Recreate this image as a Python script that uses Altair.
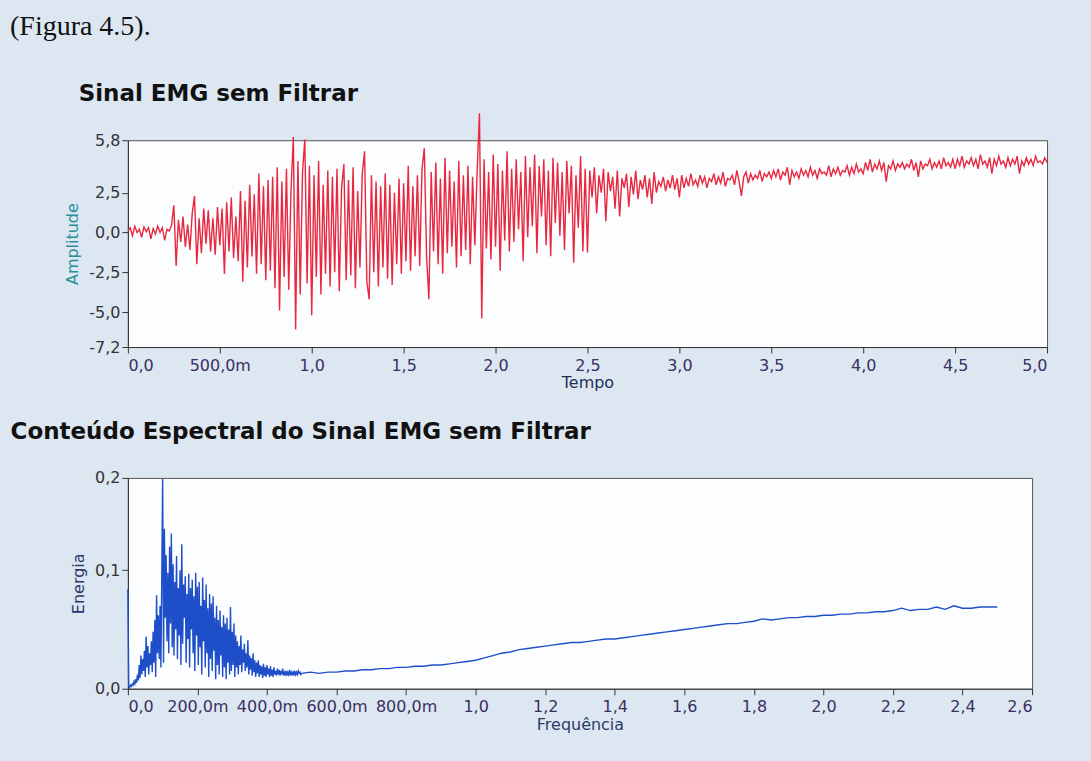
import altair as alt
import pandas as pd

# ---- Top panel: raw EMG signal (Amplitude vs Tempo), sampled every 0.0125 s ----
t_step = 0.0125
amplitude = [
    0.1, 0.3, -0.2, 0.4, 0.0, 0.2, -0.3, 0.35,
    0.05, 0.3, -0.4, 0.25, -0.1, 0.4, 0.0, 0.3,
    -0.5, 0.2, 0.1, 0.45, 1.7, -2.1, 0.8, -0.6,
    1.0, -0.9, 0.5, -1.1, 1.2, 2.3, -2.0, 0.9,
    -1.3, 1.5, -0.7, 1.4, -1.2, 0.9, -1.4, 1.6,
    -0.8, 1.5, -2.6, 1.9, -1.2, 2.2, -1.6, 1.0,
    -1.8, 2.6, -3.1, 2.0, -2.2, 3.0, -1.5, 2.4,
    -2.6, 3.7, -2.0, 2.9, -3.0, 3.3, -2.4, 3.5,
    -3.5, 4.1, -4.9, 3.2, -2.8, 4.0, -3.6, 2.7,
    6.0, -6.1, 4.5, -3.9, 3.8, 5.85, -3.2, 4.2,
    -5.2, 3.6, -2.8, 4.5, -3.9, 3.0, -2.6, 3.9,
    -3.4, 3.5, -2.5, 4.0, -3.7, 2.8, 4.3, -3.0,
    3.3, -2.7, 4.1, -3.5, 2.6, -2.2, 3.7, 5.1,
    -3.1, -4.2, 3.6, -2.5, 3.2, -3.4, 2.9, -2.2,
    3.7, -2.9, 3.0, -3.3, 2.5, -2.0, 3.4, -2.6,
    3.1, -1.8, 4.2, -2.4, 2.9, -1.5, 3.6, -2.1,
    4.0, 5.3, -1.6, -4.2, 3.8, -1.2, 4.4, -2.0,
    3.4, -2.6, 4.7, -1.3, 3.9, -0.9, 3.2, -2.2,
    4.5, -1.5, 3.6, -1.1, 4.2, -2.0, 3.5, -0.8,
    3.9, 7.5, -5.4, 4.6, -1.0, 3.8, -1.7, 4.9,
    -0.9, 4.3, -2.4, 3.9, -0.5, 5.1, -1.2, 4.0,
    -0.6, 4.6, 0.2, 3.8, -1.8, 4.8, -0.3, 4.1,
    0.4, 4.9, -1.3, 4.2, 1.0, 4.6, -0.8, 3.9,
    -1.5, 4.7, 0.6, 4.4, -0.2, 3.8, -1.1, 4.5,
    1.2, 4.2, -1.9, 3.6, 0.3, 4.8, -1.2, 4.0,
    -1.25, 3.9, 2.2, 4.1, 1.2, 3.6, 2.5, 4.0,
    0.7, 3.8, 2.6, 3.5, 1.5, 3.9, 1.0, 3.4,
    2.8, 3.7, 1.6, 3.5, 2.4, 3.9, 2.1, 3.3,
    2.7, 3.6, 2.2, 3.4, 1.8, 3.8, 2.5, 3.2,
    2.9, 3.5, 2.6, 3.3, 2.8, 3.6, 2.7, 3.4,
    2.2, 3.6, 2.8, 3.4, 2.9, 3.7, 3.0, 3.3,
    2.9, 3.6, 3.1, 3.5, 2.8, 3.4, 3.2, 3.7,
    3.0, 3.5, 3.1, 3.8, 2.9, 3.4, 3.3, 3.6,
    3.0, 3.9, 3.2, 2.3, 3.5, 3.8, 3.1, 3.7,
    3.3, 3.6, 3.4, 3.9, 3.2, 3.7, 3.5, 3.8,
    3.4, 3.9, 3.5, 4.0, 3.3, 3.8, 3.6, 4.1,
    3.0, 3.9, 3.5, 3.8, 3.4, 4.0, 3.6, 3.9,
    3.5, 4.1, 3.6, 3.9, 3.4, 4.0, 3.7, 3.8,
    3.6, 4.2, 3.5, 4.0, 3.7, 4.1, 3.6, 3.9,
    3.8, 4.2, 3.6, 4.1, 3.7, 4.3, 3.8, 4.0,
    3.7, 4.4, 3.9, 4.6, 3.8, 4.3, 4.0, 4.5,
    3.9, 4.4, 3.2, 4.2, 4.0, 4.5, 3.9, 4.3,
    4.1, 4.4, 4.0, 4.3, 4.1, 4.6, 3.9, 4.4,
    3.5, 4.5, 4.0, 4.3, 4.2, 4.6, 4.0, 4.4,
    4.1, 4.5, 4.0, 4.7, 4.2, 4.4, 4.1, 4.6,
    4.0, 4.6, 4.2, 4.8, 4.1, 4.5, 4.3, 4.7,
    4.2, 4.6, 4.0, 4.9, 4.3, 4.5, 4.1, 4.7,
    3.7, 4.6, 4.2, 4.8, 4.3, 4.5, 4.1, 4.7,
    4.2, 4.6, 4.3, 4.8, 3.7, 4.5, 4.2, 4.7,
    4.3, 4.6, 4.2, 4.8, 4.4, 4.5, 4.3, 4.7, 4.4,
]
time_ticks = [0.0, 0.5, 1.0, 1.5, 2.0, 2.5, 3.0, 3.5, 4.0, 4.5, 5.0]
amp_ticks = [-7.2, -5.0, -2.5, 0.0, 2.5, 5.8]

# ---- Bottom panel: spectral content (Energia vs Frequência) ----
f_low_step = 0.0025   # dense part, 0 .. 0.4975
energy_low = [
    0.084,
    0.002, 0.001, 0.003, 0.002, 0.004, 0.003, 0.006, 0.004, 0.008, 0.005, 0.012, 0.007,
    0.020, 0.009, 0.028, 0.012, 0.025, 0.015, 0.032, 0.010,
    0.044, 0.018, 0.036, 0.012, 0.030, 0.020, 0.040, 0.014,
    0.048, 0.022, 0.058, 0.010, 0.079, 0.030, 0.062, 0.025,
    0.070, 0.018, 0.095, 0.177, 0.022, 0.135, 0.060, 0.113,
    0.040, 0.098, 0.030, 0.120, 0.055, 0.131, 0.035, 0.105,
    0.028, 0.090, 0.050, 0.112, 0.025, 0.085, 0.045, 0.100,
    0.020, 0.122, 0.038, 0.088, 0.060, 0.095, 0.022, 0.080,
    0.042, 0.097, 0.018, 0.085, 0.050, 0.092, 0.030, 0.078,
    0.015, 0.098, 0.045, 0.086, 0.020, 0.090, 0.035, 0.070,
    0.012, 0.094, 0.040, 0.075, 0.018, 0.088, 0.030, 0.068,
    0.010, 0.080, 0.025, 0.072, 0.015, 0.078, 0.032, 0.060,
    0.008, 0.070, 0.020, 0.058, 0.012, 0.066, 0.028, 0.052,
    0.010, 0.062, 0.018, 0.055, 0.008, 0.060, 0.022, 0.050,
    0.012, 0.069, 0.015, 0.048, 0.020, 0.055, 0.010, 0.045,
    0.018, 0.040, 0.012, 0.036, 0.020, 0.045, 0.014, 0.033,
    0.022, 0.038, 0.015, 0.030, 0.018, 0.041, 0.012, 0.028,
    0.016, 0.026, 0.011, 0.030, 0.014, 0.024, 0.010, 0.022,
    0.013, 0.024, 0.010, 0.020, 0.012, 0.019, 0.009, 0.021,
    0.011, 0.018, 0.010, 0.020, 0.012, 0.017, 0.010, 0.019,
    0.011, 0.016, 0.010, 0.018, 0.012, 0.015, 0.011, 0.017,
    0.012, 0.016, 0.011, 0.015, 0.012, 0.017, 0.011, 0.014,
    0.012, 0.015, 0.011, 0.014, 0.012, 0.016, 0.011, 0.014,
    0.012, 0.014, 0.011, 0.015, 0.012, 0.014, 0.012, 0.015, 0.013, 0.014, 0.012,
]
f_high_start = 0.5
f_high_step = 0.025   # sparse tail, 0.5 .. 2.5
energy_high = [
    0.013, 0.014, 0.013, 0.014,
    0.014, 0.015, 0.015, 0.016,
    0.016, 0.017, 0.017, 0.018,
    0.018, 0.019, 0.019, 0.020,
    0.020, 0.021, 0.022, 0.023,
    0.024, 0.026, 0.028, 0.030,
    0.031, 0.033, 0.034, 0.035,
    0.036, 0.037, 0.038, 0.039,
    0.039, 0.040, 0.041, 0.042,
    0.042, 0.043, 0.044, 0.045,
    0.046, 0.047, 0.048, 0.049,
    0.050, 0.051, 0.052, 0.053,
    0.054, 0.055, 0.055, 0.056,
    0.057, 0.059, 0.058, 0.059,
    0.060, 0.060, 0.061, 0.061,
    0.062, 0.062, 0.063, 0.063,
    0.064, 0.064, 0.065, 0.065,
    0.066, 0.068, 0.066, 0.067,
    0.067, 0.069, 0.067, 0.070,
    0.068, 0.068, 0.069, 0.069,
    0.069,
]
freq_ticks = [0.0, 0.2, 0.4, 0.6, 0.8, 1.0, 1.2, 1.4, 1.6, 1.8, 2.0, 2.2, 2.4, 2.6]
energy_ticks = [0.0, 0.1, 0.178]

# ---- build tables ----
df_sig = pd.DataFrame({
    "Tempo": [round(i * t_step, 4) for i in range(len(amplitude))],
    "Amplitude": amplitude,
})
freqs = [round(i * f_low_step, 4) for i in range(len(energy_low))] + \
        [round(f_high_start + i * f_high_step, 4) for i in range(len(energy_high))]
df_spec = pd.DataFrame({"Frequência": freqs, "Energia": energy_low + energy_high})

comma1 = "replace(replace(format(datum.value, '.1f'), '.', ','), '\u2212', '-')"
label_x_col = "#3b2f63"
axis_common = dict(labelFont="DejaVu Sans", labelFontSize=16, titleFont="DejaVu Sans",
                   titleFontSize=16, titleFontWeight="normal", domainColor="#333333",
                   tickColor="#333333", tickSize=6, grid=False)

top = alt.Chart(df_sig).mark_line(color="#e8283f", strokeWidth=1.4).encode(
    x=alt.X("Tempo:Q",
            scale=alt.Scale(domain=[0, 5], nice=False),
            axis=alt.Axis(values=time_ticks, labelColor=label_x_col, titleColor="#1f2f5a",
                          labelExpr="datum.value == 0.5 ? '500,0m' : " + comma1,
                          labelPadding=4, titlePadding=2, **axis_common)),
    y=alt.Y("Amplitude:Q",
            scale=alt.Scale(domain=[-7.2, 5.8], nice=False, zero=False),
            axis=alt.Axis(values=amp_ticks, labelColor="#333333", titleColor="#2a8f9a",
                          labelExpr=comma1, titlePadding=8, **axis_common)),
).properties(
    width=920, height=207,
    title=alt.TitleParams("Sinal EMG sem Filtrar", anchor="start", dx=14, offset=4,
                          font="DejaVu Sans", fontSize=23, fontWeight="bold", color="#111111"),
)

bottom = alt.Chart(df_spec).mark_line(color="#1f4fc8", strokeWidth=1.4).encode(
    x=alt.X("Frequência:Q",
            scale=alt.Scale(domain=[0, 2.6], nice=False),
            axis=alt.Axis(values=freq_ticks, labelColor=label_x_col, titleColor="#2b3a6b",
                          labelExpr="datum.value > 0 && datum.value < 0.95 ? "
                                    "replace(format(datum.value * 1000, '.1f'), '.', ',') + 'm' : " + comma1,
                          labelPadding=4, titlePadding=2, **axis_common)),
    y=alt.Y("Energia:Q",
            scale=alt.Scale(domain=[0, 0.178], nice=False, zero=True),
            axis=alt.Axis(values=energy_ticks, labelColor="#333333", titleColor="#2b3a6b",
                          labelExpr=comma1, titlePadding=8, **axis_common)),
).properties(
    width=905, height=211,
    title=alt.TitleParams("Conteúdo Espectral do Sinal EMG sem Filtrar", anchor="start", dx=-60,
                          offset=26, font="DejaVu Sans", fontSize=23, fontWeight="bold",
                          color="#111111"),
)

chart = alt.vconcat(top, bottom, spacing=28).properties(
    title=alt.TitleParams("(Figura 4.5).", anchor="start", dx=0, offset=42,
                          font="Liberation Serif", fontSize=28, fontWeight="normal",
                          color="#111111"),
).configure(
    background="#dde7f1",
    padding={"left": 10, "top": 12, "right": 40, "bottom": 30},
).configure_view(
    fill="#fcfdff", stroke="#555555", strokeWidth=1,
)

chart.save("out.html", embed_options={"renderer": "svg", "actions": False})
